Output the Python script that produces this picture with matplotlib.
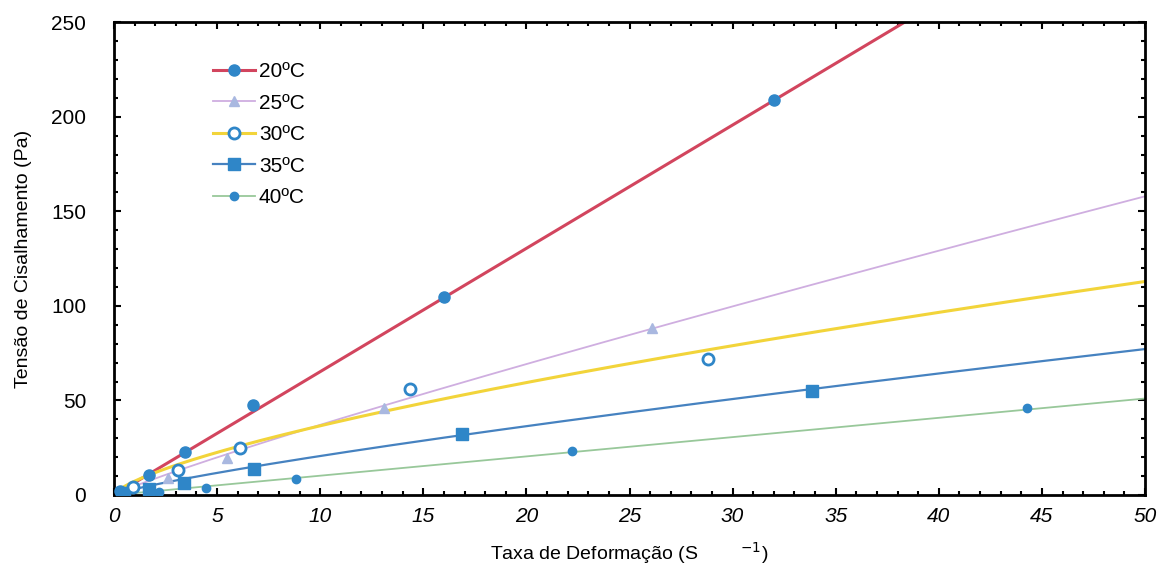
import matplotlib
matplotlib.use('Agg')
import matplotlib.pyplot as plt
from matplotlib.ticker import MultipleLocator
import numpy as np

plt.rcParams['font.family'] = ['Liberation Sans', 'DejaVu Sans']

# medidas por temperatura (taxa de deformacao, tensao)
labels = ['20ºC', '25ºC', '30ºC', '35ºC', '40ºC']

x20 = [0.3, 1.7, 3.45, 6.75, 16.0, 32.0]
y20 = [2.0, 10.8, 22.8, 47.8, 104.5, 209.0]
x25 = [0.8, 2.6, 5.5, 13.1, 26.1]
y25 = [3.5, 9.0, 19.6, 46.0, 88.3]
x30 = [0.9, 3.1, 6.1, 14.35, 28.8]
y30 = [4.0, 13.3, 24.6, 55.8, 72.0]
x35 = [0.4, 1.7, 3.4, 6.8, 16.9, 33.85]
y35 = [1.0, 3.0, 6.4, 14.0, 32.0, 55.0]
x40 = [0.6, 2.2, 4.46, 8.83, 22.2, 44.3]
y40 = [0.5, 1.5, 3.8, 8.6, 23.0, 45.8]

# ajuste lei de potencia: tensao = K * taxa^n
K_fit = [6.52, 4.67, 7.3, 3.12, 1.02]
n_fit = [1.0, 0.90, 0.70, 0.82, 1.0]

xs = [x20, x25, x30, x35, x40]
ys = [y20, y25, y30, y35, y40]
line_cols = ['#d2455e', '#cfaee0', '#f2d43a', '#4682c0', '#98c89a']
mk = ['o', '^', 'o', 's', 'o']
mfc = ['#2f86c8', '#a9b8e0', 'white', '#2f86c8', '#2f86c8']
mec = ['#2f86c8', '#a9b8e0', '#2f86c8', '#2f86c8', '#2f86c8']
ms = [8, 7, 8, 8, 6]
lw = [2.2, 1.3, 2.2, 1.6, 1.3]

fig = plt.figure(figsize=(11.62, 5.67), dpi=100)
ax = fig.add_axes([0.0981, 0.127, 0.8873, 0.834])

xx = np.linspace(0, 50, 300)
handles = []
for i in range(5):
    ax.plot(xx, K_fit[i] * xx ** n_fit[i], color=line_cols[i], lw=lw[i], zorder=2)
    ax.plot(xs[i], ys[i], linestyle='none', marker=mk[i], ms=ms[i],
            mfc=mfc[i], mec=mec[i], mew=2 if i == 2 else 1, zorder=3)
    h, = ax.plot([], [], color=line_cols[i], lw=lw[i], marker=mk[i], ms=ms[i],
                 mfc=mfc[i], mec=mec[i], mew=2 if i == 2 else 1)
    handles.append(h)

ax.set_xlim(0, 50)
ax.set_ylim(0, 250)
ax.xaxis.set_major_locator(MultipleLocator(5))
ax.xaxis.set_minor_locator(MultipleLocator(1))
ax.yaxis.set_major_locator(MultipleLocator(50))
ax.yaxis.set_minor_locator(MultipleLocator(10))
ax.tick_params(which='both', direction='in', top=True, right=True, width=1.5)
ax.tick_params(which='major', length=5, labelsize=15)
ax.tick_params(axis='y', which='major', pad=20)
ax.tick_params(axis='x', which='major', pad=9)
ax.tick_params(which='minor', length=3)
for lab in ax.get_xticklabels():
    lab.set_fontstyle('italic')
for s in ax.spines.values():
    s.set_linewidth(2)

ax.set_xlabel('Taxa de Deformação (S        $^{-1}$)', fontsize=14, labelpad=10)
ax.set_ylabel('Tensão de Cisalhamento (Pa)', fontsize=14, labelpad=14)

ax.legend(handles, labels, loc='upper left', bbox_to_anchor=(0.078, 0.955),
          frameon=False, fontsize=15, handlelength=2.0, labelspacing=0.6,
          handletextpad=0.2)

plt.savefig('out.png', dpi=100)
